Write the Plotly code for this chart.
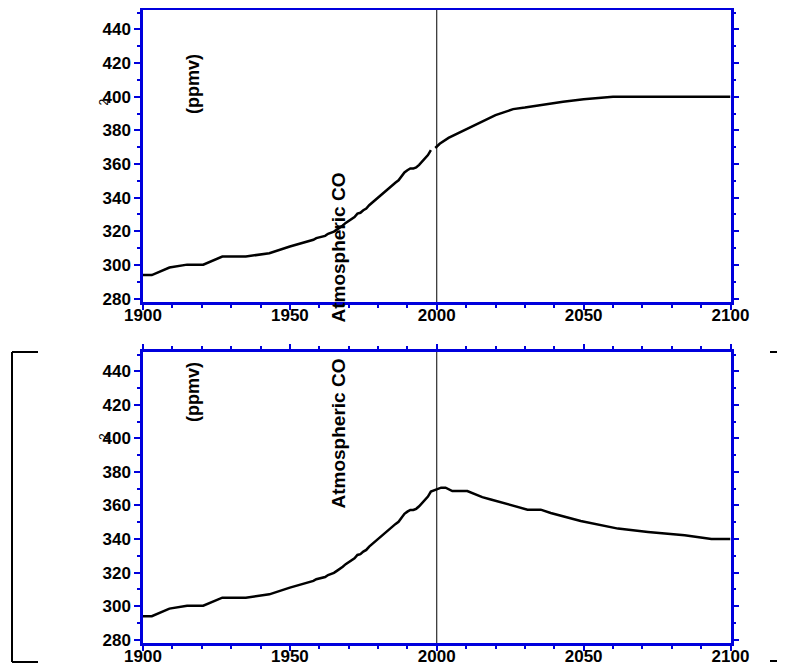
import plotly.graph_objects as go

# ---------------- data ----------------
years_hist = [1900, 1903, 1909, 1915, 1920.5, 1927, 1935, 1943, 1950, 1955,
              1958, 1959, 1960, 1961, 1962, 1963, 1964, 1965, 1966, 1967,
              1968, 1969, 1970, 1971, 1972, 1973, 1974, 1975, 1976, 1977,
              1978, 1979, 1980, 1981, 1982, 1983, 1984, 1985, 1986, 1987,
              1988, 1989, 1990, 1991, 1992, 1993, 1994, 1995, 1996, 1997, 1998]
co2_hist = [294, 294, 298.5, 300.2, 300.2, 305, 305, 307, 311, 313.5,
            315, 316, 316.3, 317, 317.3, 318.5, 319, 319.8, 321, 322,
            323.5, 325, 326, 327, 328.5, 330.5, 331, 332.5, 333.5, 335.5,
            337, 339, 340, 342, 343, 345, 346.5, 348, 349, 350.3,
            352.5, 355, 356.3, 357.3, 357.3, 358, 359.5, 361.5, 363, 365.3, 368.3]

# top panel: stabilisation scenario
years_top = [1999.5, 2001, 2004, 2010, 2015, 2020, 2026, 2030, 2043, 2050, 2060, 2070, 2080, 2090, 2100]
co2_top = [369.5, 372, 375.5, 380.5, 385, 389, 392.6, 393.5, 397, 398.5, 400, 400, 400, 400, 400]

# bottom panel: emission-reduction scenario
years_bot = [1999, 2000, 2001.5, 2003, 2005.3, 2010.4, 2015.5, 2018.4, 2024.6, 2030.9,
             2035.4, 2038.8, 2049, 2061.7, 2071.9, 2084.4, 2093.5, 2100]
co2_bot = [369, 370, 370.6, 370.6, 368.6, 368.6, 365, 363.6, 360.5, 357.5,
           357.5, 355.5, 350.7, 346.2, 344.2, 342.2, 340, 340]

x_ticks = [1900, 1950, 2000, 2050, 2100]
y_ticks = [280, 300, 320, 340, 360, 380, 400, 420, 440]

OFF = 8                      # page body margin
W, H = 785 - OFF, 666 - OFF
BLUE = "#0000DD"
FONT = "Liberation Sans, Arial, sans-serif"

def PX(px):
    return (px - OFF) / W

def PY(py):
    return 1 - (py - OFF) / H

fig = go.Figure()
line_style = dict(color="black", width=2.5)
fig.add_trace(go.Scatter(x=years_hist, y=co2_hist, mode="lines", line=line_style,
                         xaxis="x", yaxis="y", showlegend=False))
fig.add_trace(go.Scatter(x=years_top, y=co2_top, mode="lines", line=line_style,
                         xaxis="x", yaxis="y", showlegend=False))
fig.add_trace(go.Scatter(x=years_hist + years_bot, y=co2_hist + co2_bot, mode="lines",
                         line=line_style, xaxis="x2", yaxis="y2", showlegend=False))

def xax(anchor):
    return dict(domain=[PX(143), PX(730.5)], range=[1900, 2100], anchor=anchor,
                automargin=False,
                tickvals=x_ticks, ticks="outside", ticklen=5, tickwidth=2, tickcolor=BLUE,
                ticklabelstandoff=-9,
                minor=dict(dtick=10, tick0=1900, ticks="outside", ticklen=3, tickwidth=1.5,
                           tickcolor=BLUE),
                showline=True, linecolor=BLUE, linewidth=2.5, mirror="ticks",
                showgrid=False, zeroline=False,
                tickfont=dict(family=FONT, size=17, color="black", weight="bold"))

def yax(anchor, top_px, bot_px):
    return dict(domain=[PY(bot_px), PY(top_px)], range=[278, 451.5], anchor=anchor,
                automargin=False,
                tickvals=y_ticks, ticks="outside", ticklen=6, tickwidth=2, tickcolor=BLUE,
                minor=dict(dtick=10, tick0=280, ticks="outside", ticklen=3, tickwidth=1.5,
                           tickcolor=BLUE),
                showline=True, linecolor=BLUE, linewidth=2.5, mirror="ticks",
                showgrid=False, zeroline=False,
                tickfont=dict(family=FONT, size=17, color="black", weight="bold"))

fig.update_layout(
    template="none",
    width=W, height=H, margin=dict(l=0, r=0, t=0, b=0, pad=0),
    paper_bgcolor="white", plot_bgcolor="white",
    xaxis=xax("y"), yaxis=yax("x", 10, 302),
    xaxis2=xax("y2"), yaxis2=yax("x2", 352, 643),
)

# vertical line at year 2000 in each panel
for xr, yr in (("x", "y domain"), ("x2", "y2 domain")):
    fig.add_shape(type="line", xref=xr, yref=yr, x0=2000, x1=2000, y0=0, y1=1,
                  line=dict(color="black", width=1))

# brackets around bottom panel
bl = dict(color="black", width=2)
for (a, b) in [((12, 352), (12, 662)), ((12, 352), (38, 352)), ((12, 662), (38, 662)),
               ((770, 352), (785, 352)), ((770, 661), (785, 661))]:
    fig.add_shape(type="line", xref="paper", yref="paper",
                  x0=PX(a[0]), y0=PY(a[1]), x1=PX(b[0]), y1=PY(b[1]), line=bl)

# rotated labels
for dy in (0, 340):
    fig.add_annotation(x=PX(181), y=PY(52 + dy), xref="paper", yref="paper",
                       text="(ppmv)", textangle=-90, showarrow=False,
                       font=dict(family=FONT, size=18, color="black", weight="bold"))
    fig.add_annotation(x=PX(338), y=PY(170.5 + dy), xref="paper", yref="paper",
                       text="Atmospheric CO", textangle=-90, showarrow=False,
                       font=dict(family=FONT, size=19, color="black", weight="bold"))
    fig.add_annotation(x=PX(95), y=PY(97 + dy), xref="paper", yref="paper",
                       text="2", textangle=-90, showarrow=False,
                       font=dict(family=FONT, size=12, color="black"))

fig.write_html("out.html")
